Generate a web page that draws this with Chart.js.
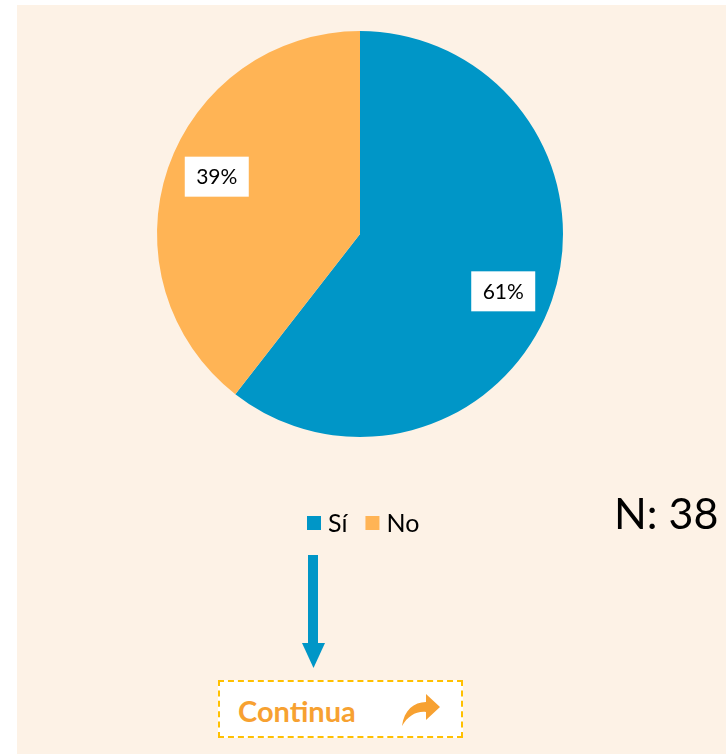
<!DOCTYPE html>
<html>
<head>
<meta charset="utf-8">
<script src="https://cdn.jsdelivr.net/npm/chart.js@4"></script>
<style>
  html, body { margin: 0; padding: 0; background: #ffffff; }
  #wrap { position: relative; width: 726px; height: 754px; overflow: hidden; }
  #bg { position: absolute; left: 17px; top: 5px; width: 709px; height: 749px; background: #fdf2e6; }
  #chart { position: absolute; left: 0; top: 0; }
  #nlabel { position: absolute; left: 614px; top: 487px; font: 43px Lato, "Liberation Sans", sans-serif; color: #000; }
  #down { position: absolute; left: 300px; top: 554px; }
  #btn { position: absolute; left: 218px; top: 680px; width: 245px; height: 58px; background: #fff;
         border: 2px dashed #ffc000; box-sizing: border-box; }
  #btn span { position: absolute; left: 18px; top: 11px; font: bold 29px Lato, "Liberation Sans", sans-serif; color: #f7a131; }
  #btn svg { position: absolute; left: 180px; top: 10px; }
</style>
</head>
<body>
<div id="wrap">
  <div id="bg"></div>
  <canvas id="chart" width="726" height="754"></canvas>
  <div id="nlabel">N: 38</div>
  <svg id="down" width="28" height="116">
    <rect x="8" y="1" width="10" height="89" fill="#0096c7"/>
    <polygon points="2,89 25,89 13.5,114" fill="#0096c7"/>
  </svg>
  <div id="btn">
    <span>Continua</span>
    <svg width="42" height="36" viewBox="0 0 42 36">
      <path d="M2,34 C4,18 14,10 26,10 L26,2 L40,15 L26,28 L26,20 C16,19 8,24 2,34 Z" fill="#f7a131"/>
    </svg>
  </div>
</div>
<script>
const labels = ['Sí', 'No'];
const counts = [23, 15];   // N: 38
const colors = ['#0096c7', '#ffb455'];
const total = counts.reduce((a, b) => a + b, 0);

// white boxes with percent text at each slice
const sliceLabels = {
  id: 'sliceLabels',
  afterDatasetsDraw(chart) {
    const ctx = chart.ctx;
    const meta = chart.getDatasetMeta(0);
    ctx.save();
    ctx.font = '21px Lato, "Liberation Sans", sans-serif';
    ctx.textAlign = 'center';
    ctx.textBaseline = 'middle';
    meta.data.forEach(function (arc, i) {
      const p = arc.getProps(['x', 'y', 'startAngle', 'endAngle', 'outerRadius'], true);
      const mid = (p.startAngle + p.endAngle) / 2 + 0.05;
      const r = p.outerRadius * 0.76;
      const x = p.x + Math.cos(mid) * r;
      const y = p.y + Math.sin(mid) * r;
      ctx.fillStyle = '#ffffff';
      ctx.fillRect(x - 32, y - 20, 64, 40);
      ctx.fillStyle = '#000000';
      ctx.fillText(Math.round(counts[i] / total * 100) + '%', x, y + 1);
    });
    ctx.restore();
  }
};

// legend drawn below the pie
const customLegend = {
  id: 'customLegend',
  afterDraw(chart) {
    const ctx = chart.ctx;
    ctx.save();
    ctx.font = '25px Lato, "Liberation Sans", sans-serif';
    ctx.textBaseline = 'middle';
    let x = 307;
    const y = 523;
    labels.forEach(function (lab, i) {
      ctx.fillStyle = colors[i];
      ctx.fillRect(x, y - 7, 14, 14);
      ctx.fillStyle = '#000000';
      ctx.fillText(lab, x + 21, y + 1);
      x += 21 + ctx.measureText(lab).width + 18;
    });
    ctx.restore();
  }
};

new Chart(document.getElementById('chart').getContext('2d'), {
  type: 'pie',
  data: {
    labels: labels,
    datasets: [{
      data: counts,
      backgroundColor: colors,
      borderWidth: 0
    }]
  },
  options: {
    responsive: false,
    animation: false,
    layout: { padding: { left: 157, right: 163, top: 31, bottom: 317 } },
    plugins: {
      legend: { display: false },
      tooltip: { enabled: false }
    }
  },
  plugins: [sliceLabels, customLegend]
});
</script>
</body>
</html>
